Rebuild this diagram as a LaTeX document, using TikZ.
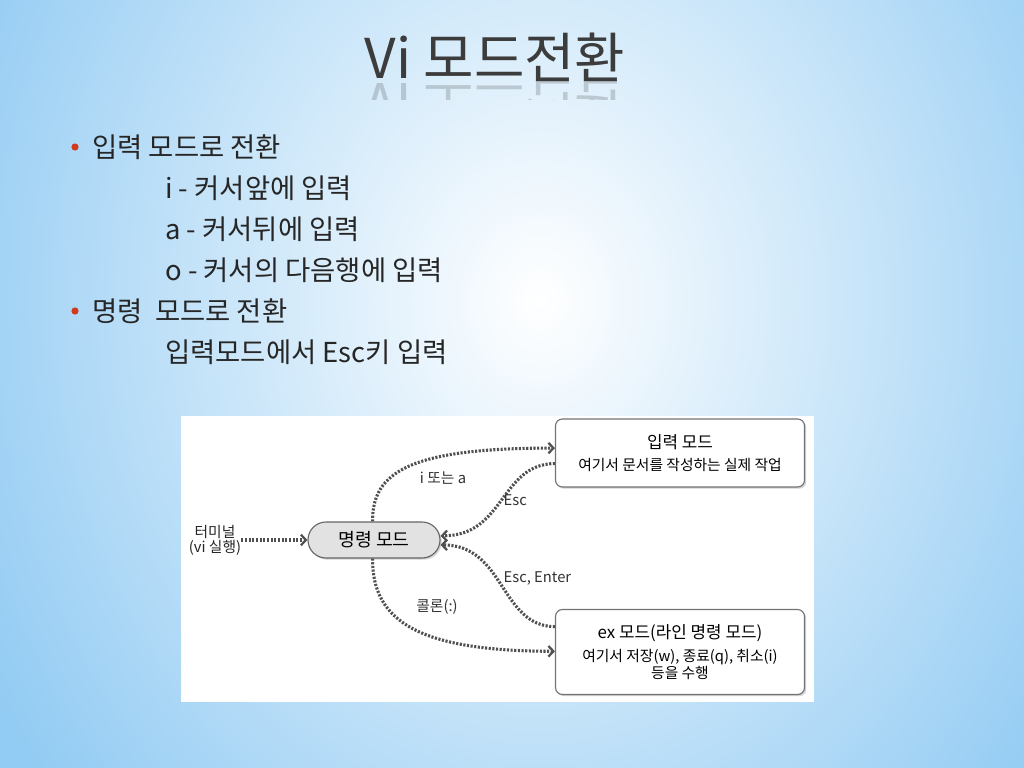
\documentclass[tikz,border=0pt]{standalone}
\usepackage{fontspec}
\setmainfont{Noto Sans CJK KR}
\usepackage{xcolor}
\usepackage{tikz}
\usetikzlibrary{arrows.meta,positioning,calc,shadows,fadings}
\definecolor{bgblue}{HTML}{92CBF3}
\definecolor{titlegray}{HTML}{3C3C3C}
\definecolor{bulletred}{HTML}{D23A1E}
\definecolor{flowgray}{HTML}{505050}
\definecolor{pillgray}{HTML}{E2E2E2}
\newcommand{\fsz}[1]{\fontsize{#1}{1.2\dimexpr#1pt\relax}\selectfont}
\tikzfading[name=bandfade, top color=transparent!100, middle color=transparent!45, bottom color=transparent!100]

\begin{document}
\begin{tikzpicture}[
    x=0.025cm, y=-0.025cm,
    bullettext/.style={anchor=base west, font=\fsz{19.5}, text=black!85, inner sep=0pt},
    bulletdot/.style={circle, fill=bulletred, inner sep=0pt, minimum size=0.18cm},
    modebox/.style={draw=black!55, fill=white, rounded corners=5pt, line width=0.8pt, align=center,
        minimum width=6.225cm, drop shadow={shadow xshift=1.2pt, shadow yshift=-1.2pt, opacity=0.35}},
    pill/.style={draw=black!60, fill=pillgray, rounded corners=0.45cm, line width=0.8pt,
        minimum width=3.3cm, minimum height=0.9cm, font=\fsz{13},
        drop shadow={shadow xshift=1.2pt, shadow yshift=-1.2pt, opacity=0.35}},
    flowlabel/.style={font=\fsz{10.5}, text=black!80, inner sep=1pt},
    flow/.style={draw=flowgray, line width=2.2pt, dash pattern=on 1.5pt off 1.1pt,
        -{Straight Barb[length=3.5pt, width=7.5pt, line width=1.6pt]}}
]
\useasboundingbox (0,0) rectangle (1024,768);
% background
\fill[bgblue] (0,0) rectangle (1024,768);
\shade[inner color=white, outer color=bgblue] (540,300) ellipse (640 and 760);
\fill[white, path fading=bandfade] (0,545) rectangle (1024,615);

% title and its reflection
\node[font=\fsz{39}, text=titlegray] (title) at (495,57) {Vi 모드전환};
\begin{scope}
\clip (330,81) rectangle (680,100);
\node[font=\fsz{39}, text=titlegray, opacity=0.22, yscale=-1, transform shape] (mirror) at (495,105) {Vi 모드전환};
\end{scope}

% bullets
\node[bulletdot] (b1) at (75,147) {};
\node[bullettext] (l1) at (92,157) {입력 모드로 전환};
\node[bullettext] (l2) at (165,198) {i - 커서앞에 입력};
\node[bullettext] (l3) at (165,239) {a - 커서뒤에 입력};
\node[bullettext] (l4) at (165,280) {o - 커서의 다음행에 입력};
\node[bulletdot] (b2) at (75,311) {};
\node[bullettext] (l5) at (92,321) {명령\ \ 모드로 전환};
\node[bullettext] (l6) at (165,362) {입력모드에서 Esc키 입력};

% diagram panel
\fill[white] (181,416) rectangle (814,702);

\node[font=\fsz{10.5}, align=center, inner sep=0pt, text=black!85] (term) at (215,540) {터미널\\[-2pt](vi 실행)};
\node[pill] (cmd) at (374,540) {명령 모드};
\node[modebox, minimum height=1.7cm] (inmode) at (680,453)
    {{\fsz{12}입력 모드}\\[4pt]{\fsz{10.5}여기서 문서를 작성하는 실제 작업}};
\node[modebox, minimum height=2.125cm] (exmode) at (680,652)
    {{\fsz{12}ex 모드(라인 명령 모드)}\\[4pt]{\fsz{10.5}여기서 저장(w), 종료(q), 취소(i)}\\[0pt]{\fsz{10.5}등을 수행}};

\draw[flow] (term.east) -- (cmd.west);
\draw[flow] ([xshift=-1pt]cmd.north) .. controls (372,472) and (410,448) .. ([yshift=3.5pt]inmode.west);
\draw[flow] ([yshift=-7.5pt]inmode.west) .. controls (500,464) and (505,536) .. ([yshift=3pt]cmd.east);
\draw[flow] ([yshift=18pt]exmode.west) .. controls (500,626) and (505,545) .. ([yshift=-3.5pt]cmd.east);
\draw[flow] ([xshift=-1pt]cmd.south) .. controls (372,622) and (420,651) .. ([yshift=0.5pt]exmode.west);

\node[flowlabel] (lbl1) at (443,478) {i 또는 a};
\node[flowlabel, anchor=west] (lbl2) at (502,500) {Esc};
\node[flowlabel, anchor=west] (lbl3) at (502,578) {Esc, Enter};
\node[flowlabel] (lbl4) at (437,607) {콜론(:)};
\end{tikzpicture}
\end{document}
